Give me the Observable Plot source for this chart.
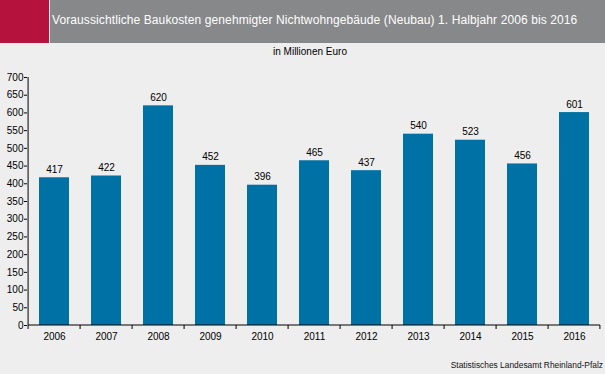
<!DOCTYPE html>
<html><head><meta charset="utf-8">
<script src="https://cdn.jsdelivr.net/npm/d3@7"></script>
<script src="https://cdn.jsdelivr.net/npm/@observablehq/plot@0.6"></script>
<style>
body{margin:0;background:#eeeeee;font-family:"Liberation Sans",Arial,sans-serif;}
#wrap{position:relative;width:605px;height:374px;overflow:hidden;background:#eeeeee;}
#red{position:absolute;left:0;top:0;width:49px;height:43px;background:#b5123e;}
#gray{position:absolute;left:50px;top:0;width:555px;height:43px;background:#878889;}
#title{position:absolute;left:52px;top:13px;color:#fff;font-size:12px;letter-spacing:0.1px;white-space:nowrap;}
#sub{position:absolute;left:0;width:620px;top:46px;text-align:center;font-size:10px;color:#000;}
#chart{position:absolute;left:0;top:60px;}
#src{position:absolute;right:2px;top:360px;font-size:8.4px;color:#111;}
</style></head>
<body><div id="wrap">
<div id="red"></div><div id="gray"></div>
<div id="title">Voraussichtliche Baukosten genehmigter Nichtwohngebäude (Neubau) 1. Halbjahr 2006 bis 2016</div>
<div id="sub">in Millionen Euro</div>
<div id="chart"></div>
<div id="src">Statistisches Landesamt Rheinland-Pfalz</div>
</div>
<script>
const years = ["2006","2007","2008","2009","2010","2011","2012","2013","2014","2015","2016"];
const values = [417,422,620,452,396,465,437,540,523,456,601];
const yTicks = [0,50,100,150,200,250,300,350,400,450,500,550,600,650,700];
const data = years.map((y,i)=>({year:y, value:values[i]}));
const pInner = 0.42, pOuter = 0.21;

const axisLines = (index, scales, values, dims) => {
  const x = scales.x, y = scales.y;
  const g = d3.create("svg:g");
  const step = x.step ? x.step() : (dims.width - dims.marginLeft - dims.marginRight) / years.length;
  const y0 = y(0);
  const bounds = years.map(d => x(d) - pOuter*step).concat([x(years[years.length-1]) + x.bandwidth() + pOuter*step]);
  g.selectAll("line.t").data(bounds).join("line")
    .attr("x1", d=>d).attr("x2", d=>d).attr("y1", y0).attr("y2", y0+4)
    .attr("stroke","#000");
  g.append("line").attr("x1", bounds[0]).attr("x2", bounds[bounds.length-1])
    .attr("y1", y0).attr("y2", y0).attr("stroke","#000");
  g.append("line").attr("x1", bounds[0]).attr("x2", bounds[0])
    .attr("y1", y(700)).attr("y2", y0).attr("stroke","#000");
  return g.node();
};

const chart = Plot.plot({
  width: 605, height: 290,
  marginTop: 17, marginBottom: 25, marginLeft: 27, marginRight: 4,
  style: {background: "transparent", fontFamily: "Liberation Sans, Arial, sans-serif", fontSize: "10px", color: "#000"},
  x: {domain: years, paddingInner: pInner, paddingOuter: pOuter, label: null},
  y: {domain: [0,700], label: null},
  marks: [
    Plot.barY(data, {x: "year", y: "value", fill: "#0071a4"}),
    Plot.text(data, {x: "year", y: "value", text: d=>String(d.value), dy: -5, lineAnchor: "bottom", fontSize: 10, fill: "#000"}),
    Plot.axisY({ticks: yTicks, tickSize: 3, tickPadding: 1, label: null, fontSize: 10}),
    Plot.axisX({tickSize: 0, tickPadding: 7, label: null, fontSize: 10}),
    axisLines
  ]
});
document.getElementById("chart").appendChild(chart);
</script>
</body></html>
